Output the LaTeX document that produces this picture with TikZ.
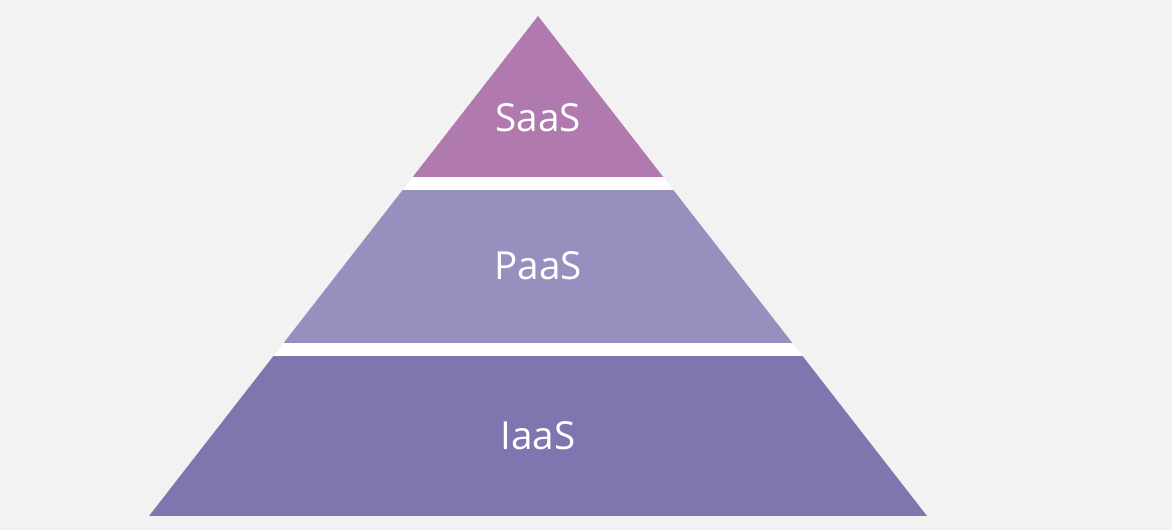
\documentclass[tikz,border=0pt]{standalone}
\usepackage{fontspec}
\setmainfont{Open Sans}
\usetikzlibrary{positioning}
\definecolor{inkback}{HTML}{F2F2F2}
\definecolor{inksaas}{HTML}{B07AAE}
\definecolor{inkpaas}{HTML}{988FBF}
\definecolor{inkiaas}{HTML}{7F75AF}
\newcommand{\layerband}[3]{%
  \fill[#3] (0,#1) rectangle (1172,#2);}

\begin{document}
\begin{tikzpicture}[x=0.75pt, y=-0.75pt,
    font=\fontsize{29}{34}\selectfont,
    layertext/.style={text=white, inner sep=0pt}]
  \fill[inkback] (0,0) rectangle (1172,530);
  \useasboundingbox (0,0) rectangle (1172,530);
  \coordinate (apex) at (538,16);
  \coordinate (baseL) at (149,516);
  \coordinate (baseR) at (927,516);
  \begin{scope}
    \clip (apex) -- (baseL) -- (baseR) -- cycle;
    \fill[white] (0,0) rectangle (1172,530);
    \layerband{0}{177}{inksaas}
    \layerband{190}{343}{inkpaas}
    \layerband{356}{530}{inkiaas}
  \end{scope}
  \node[layertext] (saas) at (538,117.5) {SaaS};
  \node[layertext] (paas) at (538,265.5) {PaaS};
  \node[layertext] (iaas) at (538,435.5) {IaaS};
\end{tikzpicture}
\end{document}
